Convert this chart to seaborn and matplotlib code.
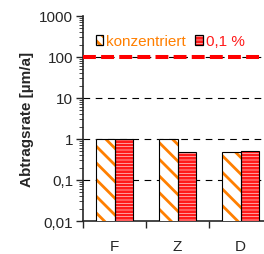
import matplotlib
matplotlib.use("Agg")
import matplotlib.pyplot as plt
import seaborn as sns
import pandas as pd
from matplotlib.patches import Patch, Rectangle
from matplotlib.ticker import FixedLocator, LogLocator, NullFormatter

sns.set_style("ticks")
plt.rcParams['font.family'] = ['Liberation Sans', 'DejaVu Sans']
plt.rcParams['hatch.linewidth'] = 2.0

categories = ["F", "Z", "D"]
konzentriert = [1.0, 1.0, 0.47]
verduennt = [1.0, 0.47, 0.5]
series_names = ["konzentriert", "0,1 %"]
ytick_vals = [0.01, 0.1, 1, 10, 100, 1000]
ytick_labels = ["0,01", "0,1", "1", "10", "100", "1000"]
limit_value = 100

df = pd.DataFrame({
    "Kategorie": categories * 2,
    "Serie": [series_names[0]] * 3 + [series_names[1]] * 3,
    "Wert": konzentriert + verduennt,
})

fig = plt.figure(figsize=(2.64, 2.55), dpi=100)
ax = fig.add_axes([0.3144, 0.1294, 0.716, 0.804])

colors = {"konzentriert": "#ff7f00", "0,1 %": "#ff1a1a"}
hatches = {"konzentriert": "\\\\", "0,1 %": "-----"}
legend_hatches = {"konzentriert": "\\\\\\", "0,1 %": "-----"}

# hatch follows edgecolor, so draw bars with coloured hatch and no outline
sns.barplot(data=df, x="Kategorie", y="Wert", hue="Serie", ax=ax,
            palette=["white", "white"], linewidth=0,
            width=0.58, legend=False, zorder=3)
ax.set_yscale("log")

for cont, name in zip(ax.containers, series_names):
    for bar in cont:
        bar.set_hatch(hatches[name])
        bar.set_edgecolor(colors[name])
        bar.set_linewidth(0)
        # black outline on top
        ax.add_patch(Rectangle(bar.get_xy(), bar.get_width(), bar.get_height(),
                               fill=False, edgecolor="black", linewidth=0.8, zorder=3.5))

ax.set_ylim(0.01, 1000)
ax.set_xlim(-0.5, 2.5)
ax.yaxis.set_major_locator(FixedLocator(ytick_vals))
ax.set_yticklabels(ytick_labels)
ax.yaxis.set_minor_locator(LogLocator(base=10, subs=range(2, 10)))
ax.yaxis.set_minor_formatter(NullFormatter())
ax.tick_params(axis="y", which="major", length=5, width=1, labelsize=11, pad=2)
ax.tick_params(axis="y", which="minor", length=3, width=0.6)
ax.set_xticks([-0.5, 0.5, 1.5, 2.5], minor=False)
ax.set_xticklabels([])
ax.set_xticks([0, 1, 2], minor=True)
ax.set_xticklabels(categories, minor=True)
ax.tick_params(axis="x", which="major", length=5, width=1, direction="out")
ax.tick_params(axis="x", which="minor", length=0, labelsize=11, pad=13)

for v in [0.1, 1, 10, 100]:
    ax.axhline(v, color="black", linestyle=(0, (6, 5)), linewidth=0.8, zorder=1)
ax.axhline(limit_value, color="#ff0000", linestyle=(0, (3.2, 1.3)), linewidth=2.9, zorder=4)

ax.set_xlabel("")
ax.set_ylabel("Abtragsrate [µm/a]", fontsize=11, fontweight="bold", labelpad=4)
for s in ["top", "right"]:
    ax.spines[s].set_visible(False)
ax.spines["left"].set_linewidth(1.2)
ax.spines["bottom"].set_linewidth(1.2)

handles = [(Patch(facecolor="white", edgecolor=colors[n], hatch=legend_hatches[n], linewidth=0),
            Patch(fill=False, edgecolor="black", linewidth=0.9))
           for n in series_names]
leg = ax.legend(handles, series_names, loc="upper left", bbox_to_anchor=(0.035, 0.94),
                ncol=2, frameon=False, fontsize=11, handlelength=0.5, handleheight=0.55,
                handletextpad=0.2, columnspacing=0.6, borderaxespad=0)
for t, n in zip(leg.get_texts(), series_names):
    t.set_color(colors[n])

fig.savefig("out.png", dpi=100)
